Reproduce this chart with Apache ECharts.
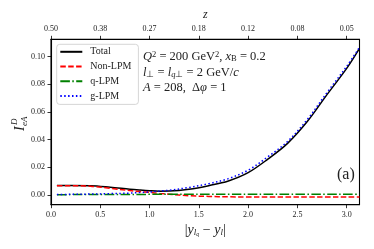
<!DOCTYPE html>
<html>
<head>
<meta charset="utf-8">
<script src="https://cdn.jsdelivr.net/npm/echarts@6/dist/echarts.min.js"></script>
<style>
html,body{margin:0;padding:0;background:#fff;}
#chart{width:374px;height:249px;}
</style>
</head>
<body>
<div id="chart"></div>
<script>
// x positions |y_lq - y_l|
var xValues = [0.06, 0.2, 0.4, 0.6, 0.8, 0.9, 1.0, 1.1, 1.2, 1.4, 1.6, 1.8, 2.0, 2.2, 2.4, 2.6, 2.8, 3.0, 3.13];
var totalValues  = [0.0067, 0.0067, 0.0066, 0.0055, 0.0040, 0.0034, 0.0029, 0.0026, 0.0027, 0.0040, 0.0066, 0.0100, 0.0160, 0.0258, 0.0372, 0.0530, 0.0725, 0.0915, 0.1060];
var nonLpmValues = [0.0066, 0.0066, 0.0062, 0.0047, 0.0030, 0.0023, 0.0017, 0.0010, 0.0004, -0.0007, -0.0012, -0.0015, -0.0016, -0.0017, -0.0017, -0.0017, -0.0017, -0.0017, -0.0017];
var qLpmValues   = [0.0000, 0.0001, 0.0001, 0.0002, 0.0002, 0.0002, 0.0003, 0.0003, 0.0003, 0.0003, 0.0003, 0.0003, 0.0003, 0.0003, 0.0003, 0.0003, 0.0003, 0.0003, 0.0003];
var gLpmValues   = [0.0002, 0.0003, 0.0005, 0.0008, 0.0012, 0.0016, 0.0020, 0.0027, 0.0033, 0.0053, 0.0080, 0.0117, 0.0178, 0.0275, 0.0386, 0.0545, 0.0740, 0.0930, 0.1068];

var seriesNames = ['Total', 'Non-LPM', 'q-LPM', 'g-LPM'];
var xTicks = [0.0, 0.5, 1.0, 1.5, 2.0, 2.5, 3.0];
var zTickLabels = ['0.50', '0.38', '0.27', '0.18', '0.12', '0.08', '0.05'];
var yTicks = [0.00, 0.02, 0.04, 0.06, 0.08, 0.10];

function pairs(ys) { return xValues.map(function (x, i) { return [x, ys[i]]; }); }

var serif = 'Liberation Serif';
var chart = echarts.init(document.getElementById('chart'));

function findIdx(v) {
  for (var i = 0; i < xTicks.length; i++) if (Math.abs(xTicks[i] - v) < 1e-6) return i;
  return -1;
}

var mathRich = {
  i: { fontFamily: serif, fontStyle: 'italic', fontSize: 12.5, color: '#222' },
  r: { fontFamily: serif, fontSize: 12.5, color: '#222' },
  sup: { fontFamily: serif, fontSize: 8.5, color: '#222', verticalAlign: 'top', lineHeight: 10 },
  sub: { fontFamily: serif, fontSize: 8.5, color: '#222', verticalAlign: 'bottom', lineHeight: 10 },
  subi: { fontFamily: serif, fontStyle: 'italic', fontSize: 8.5, color: '#222', verticalAlign: 'bottom', lineHeight: 10 }
};

function mathText(x, y, txt) {
  return {
    type: 'text', left: x, top: y,
    style: { text: txt, rich: mathRich, font: '12.5px "Liberation Serif"', fill: '#222' }
  };
}

var option = {
  animation: false,
  backgroundColor: '#fff',
  grid: { left: 51, right: 14.5, top: 39.3, bottom: 44.3, show: true, borderColor: '#000', borderWidth: 1.1, backgroundColor: 'transparent' },
  legend: {
    data: seriesNames,
    orient: 'vertical',
    left: 56.7, top: 44.3,
    itemWidth: 22, itemHeight: 10, itemGap: 4.7,
    padding: [2.5, 7, 3.5, 2.6],
    backgroundColor: 'rgba(255,255,255,0.85)',
    borderColor: '#cccccc', borderWidth: 0.8, borderRadius: 3,
    itemStyle: { opacity: 0, borderWidth: 0 },
    textStyle: { fontFamily: serif, fontSize: 10, color: '#222', padding: [0, 0, 0, 3] }
  },
  xAxis: [{
    type: 'value', min: 0, max: 3.13, position: 'bottom',
    splitLine: { show: false },
    axisLine: { show: true, onZero: false, lineStyle: { color: '#000', width: 1.1 } },
    axisTick: { show: true, inside: false, length: 3.5, lineStyle: { color: '#000', width: 0.8 }, customValues: xTicks },
    axisLabel: { customValues: xTicks, margin: 6, fontFamily: serif, fontSize: 8, color: '#222',
      formatter: function (v) { return v.toFixed(1); } },
    name: '|{i|y}{sub|l}{subsub|q} − {i|y}{sub|l}|',
    nameLocation: 'middle', nameGap: 15,
    nameTextStyle: { fontFamily: serif, fontSize: 14, color: '#222',
      rich: {
        i: { fontFamily: serif, fontStyle: 'italic', fontSize: 14, color: '#222' },
        sub: { fontFamily: serif, fontStyle: 'italic', fontSize: 9, color: '#222', verticalAlign: 'bottom', lineHeight: 12 },
        subsub: { fontFamily: serif, fontStyle: 'italic', fontSize: 6, color: '#222', verticalAlign: 'bottom', lineHeight: 8 }
      } }
  }, {
    type: 'value', min: 0, max: 3.13, position: 'top',
    splitLine: { show: false },
    axisLine: { show: true, onZero: false, lineStyle: { color: '#000', width: 1.1 } },
    axisTick: { show: true, inside: false, length: 3.5, lineStyle: { color: '#000', width: 0.8 }, customValues: xTicks },
    axisLabel: { customValues: xTicks, margin: 6, fontFamily: serif, fontSize: 8, color: '#222',
      formatter: function (v) { var i = findIdx(v); return i >= 0 ? zTickLabels[i] : ''; } },
    name: 'z', nameLocation: 'middle', nameGap: 16,
    nameTextStyle: { fontFamily: serif, fontStyle: 'italic', fontSize: 12, color: '#222' }
  }],
  yAxis: {
    type: 'value', min: -0.0072, max: 0.1126,
    splitLine: { show: false },
    axisLine: { show: true, onZero: false, lineStyle: { color: '#000', width: 1.1 } },
    axisTick: { show: true, inside: false, length: 3.5, lineStyle: { color: '#000', width: 0.8 }, customValues: yTicks },
    axisLabel: { customValues: yTicks, margin: 6, fontFamily: serif, fontSize: 8, color: '#222',
      formatter: function (v) { return v.toFixed(2); } }
  },
  series: [
    { name: seriesNames[0], type: 'line', data: pairs(totalValues), smooth: 0.35, showSymbol: false, symbol: 'none',
      lineStyle: { color: '#000000', width: 1.5, type: 'solid' }, itemStyle: { color: '#000000' }, z: 2 },
    { name: seriesNames[1], type: 'line', data: pairs(nonLpmValues), smooth: 0.35, showSymbol: false, symbol: 'none',
      lineStyle: { color: '#ff0000', width: 1.5, type: [5.5, 2.4] }, itemStyle: { color: '#ff0000' }, z: 3 },
    { name: seriesNames[2], type: 'line', data: pairs(qLpmValues), smooth: 0.35, showSymbol: false, symbol: 'none',
      lineStyle: { color: '#008000', width: 1.5, type: [9.6, 2.4, 1.5, 2.4] }, itemStyle: { color: '#008000' }, z: 4 },
    { name: seriesNames[3], type: 'line', data: pairs(gLpmValues), smooth: 0.35, showSymbol: false, symbol: 'none',
      lineStyle: { color: '#0000ff', width: 1.5, type: [1.5, 2.4] }, itemStyle: { color: '#0000ff' }, z: 5 }
  ],
  graphic: [
    mathText(143, 50, '{i|Q}{sup|2}{r| = 200 GeV}{sup|2}{r|, }{i|x}{sub|B}{r| = 0.2}'),
    mathText(143, 66, '{i|l}{sub|⊥}{r| = }{i|l}{subi|q}{sub|⊥}{r| = 2 GeV/}{i|c}'),
    mathText(143, 81, '{i|A}{r| = 208,  Δ}{i|φ}{r| = 1}'),
    { type: 'text', left: 337, top: 167, style: { text: '(a)', font: '16px "Liberation Serif"', fill: '#222' } },
    { type: 'group', x: 20, y: 124, rotation: Math.PI / 2, children: [
      { type: 'text', x: -7, y: 0, style: { text: 'I', font: 'italic 14px "Liberation Serif"', fill: '#222', verticalAlign: 'middle', align: 'left' } },
      { type: 'text', x: -1, y: -5, style: { text: 'D', font: 'italic 9px "Liberation Serif"', fill: '#222', verticalAlign: 'middle', align: 'left' } },
      { type: 'text', x: -2, y: 5, style: { text: 'eA', font: 'italic 9px "Liberation Serif"', fill: '#222', verticalAlign: 'middle', align: 'left' } }
    ] }
  ]
};
chart.setOption(option);
</script>
</body>
</html>
